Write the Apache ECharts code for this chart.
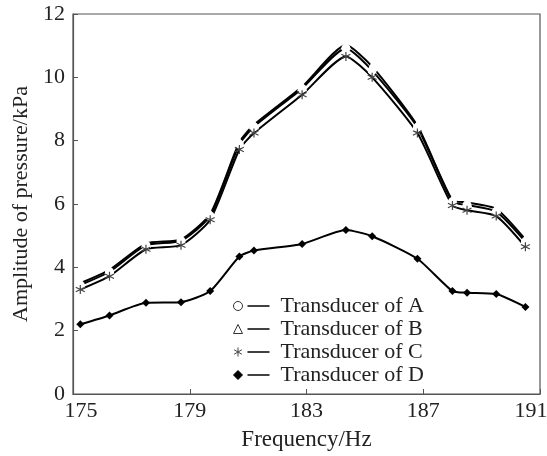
<!DOCTYPE html>
<html>
<head>
<meta charset="utf-8">
<script src="https://cdn.jsdelivr.net/npm/echarts@6/dist/echarts.min.js"></script>
<style>
  html, body { margin: 0; padding: 0; background: #fff; }
  #chart { width: 547px; height: 456px; }
</style>
</head>
<body>
<div id="chart"></div>
<script>
// frequencies (Hz) and pressure amplitudes (kPa)
var freqs = [175.25, 176.25, 177.5, 178.7, 179.7, 180.7, 181.2, 182.85, 184.35, 185.25, 186.8, 188, 188.5, 189.5, 190.5];
var seriesA = [3.44, 3.86, 4.70, 4.84, 5.62, 7.89, 8.44, 9.65, 10.92, 10.21, 8.42, 6.07, 5.97, 5.76, 4.81];
var seriesB = [3.50, 3.92, 4.75, 4.88, 5.68, 7.95, 8.50, 9.70, 11.02, 10.34, 8.47, 6.12, 6.05, 5.85, 4.88];
var seriesC = [3.30, 3.72, 4.57, 4.70, 5.50, 7.72, 8.24, 9.45, 10.66, 10.00, 8.24, 5.95, 5.80, 5.62, 4.65];
var seriesD = [2.20, 2.48, 2.88, 2.90, 3.25, 4.34, 4.53, 4.74, 5.18, 4.98, 4.27, 3.25, 3.20, 3.16, 2.75];
var names = ['Transducer of A', 'Transducer of B', 'Transducer of C', 'Transducer of D'];
var xTicks = [175, 179, 183, 187, 191];

var font = 'Liberation Serif';
var asterisk = 'path://M0,-5L0,5M-4.33,-2.5L4.33,2.5M-4.33,2.5L4.33,-2.5';

function pairs(vals) {
  return freqs.map(function (f, i) { return [f, vals[i]]; });
}

function mkSeries(name, vals, symbol, size, itemStyle) {
  return {
    name: name,
    type: 'line',
    data: pairs(vals),
    smooth: 0.2,
    symbol: symbol,
    symbolSize: size,
    showAllSymbol: true,
    lineStyle: { color: '#000', width: 2 },
    itemStyle: itemStyle,
    emphasis: { disabled: true },
    z: 2
  };
}

var chart = echarts.init(document.getElementById('chart'));
chart.setOption({
  animation: false,
  backgroundColor: '#fff',
  grid: {
    left: 73, right: 7, top: 14, bottom: 62,
    outerBoundsMode: 'none',
    containLabel: false,
    show: true, borderColor: '#555', borderWidth: 1.2
  },
  legend: {
    left: 228, top: 290,
    orient: 'vertical',
    itemGap: 1,
    itemWidth: 9, itemHeight: 9,
    data: [
      { name: names[0], icon: 'circle' },
      { name: names[1], icon: 'triangle' },
      { name: names[2], icon: asterisk },
      { name: names[3], icon: 'diamond' }
    ],
    formatter: function (n) { return '{ln|}  ' + n; },
    textStyle: {
      fontFamily: font, fontSize: 22, color: '#222',
      rich: {
        ln: { width: 22, height: 1.6, backgroundColor: '#111', fontSize: 22 }
      }
    },
    itemStyle: { borderWidth: 1 }
  },
  xAxis: {
    type: 'value',
    min: 175, max: 191, interval: 4,
    name: 'Frequency/Hz',
    nameLocation: 'middle',
    nameGap: 34,
    nameMoveOverlap: false,
    nameTextStyle: { fontFamily: font, fontSize: 23, color: '#222' },
    axisLine: { lineStyle: { color: '#555', width: 1.2 } },
    axisTick: { inside: true, length: 5, lineStyle: { color: '#555' } },
    axisLabel: {
      fontFamily: font, fontSize: 22, color: '#222', margin: 6,
      customValues: xTicks,
      formatter: function (v) {
        if (v === xTicks[0]) return '{l|' + v + '}';
        if (v === xTicks[xTicks.length - 1]) return '{r|' + v + '}';
        return '' + v;
      },
      rich: {
        l: { fontFamily: font, fontSize: 22, color: '#222', padding: [0, 0, 0, 16] },
        r: { fontFamily: font, fontSize: 22, color: '#222', padding: [0, 18, 0, 0] }
      }
    },
    splitLine: { show: false }
  },
  yAxis: {
    type: 'value',
    min: 0, max: 12, interval: 2,
    name: 'Amplitude of pressure/kPa',
    nameLocation: 'middle',
    nameGap: 40,
    nameTextStyle: { fontFamily: font, fontSize: 22, color: '#222' },
    axisLine: { show: true, lineStyle: { color: '#555', width: 1.2 } },
    axisTick: { show: true, inside: true, length: 5, lineStyle: { color: '#555' } },
    axisLabel: { fontFamily: font, fontSize: 22, color: '#222', margin: 8 },
    splitLine: { show: false }
  },
  series: [
    mkSeries(names[0], seriesA, 'emptyCircle', 7, { color: '#fff', borderColor: '#333', borderWidth: 1 }),
    mkSeries(names[1], seriesB, 'emptyTriangle', 7, { color: '#fff', borderColor: '#333', borderWidth: 1 }),
    mkSeries(names[2], seriesC, asterisk, 9, { color: '#444', borderColor: '#444', borderWidth: 1.2 }),
    mkSeries(names[3], seriesD, 'diamond', 8, { color: '#000', borderColor: '#000', borderWidth: 0 })
  ]
});
</script>
</body>
</html>
